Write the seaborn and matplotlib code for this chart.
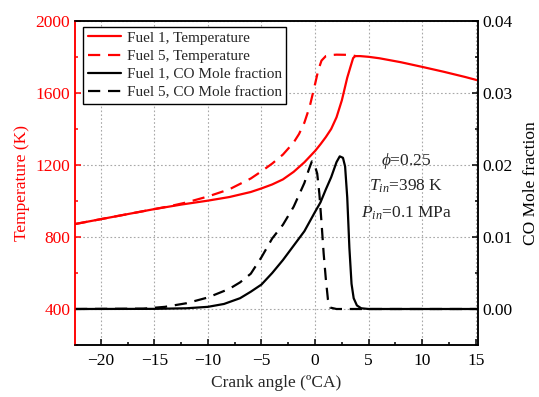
import matplotlib
matplotlib.use("Agg")
import matplotlib.pyplot as plt
from matplotlib.ticker import MultipleLocator, FormatStrFormatter
from matplotlib.lines import Line2D
import seaborn as sns
import pandas as pd

# Crank angle grids (°CA) and values for each series
t1_ca = [-22.4, -20, -17.5, -15, -12.5, -10, -8, -6, -5, -4, -3, -2, -1, 0, 0.5, 1,
         1.5, 2, 2.5, 3, 3.3, 3.55, 3.75, 4.2, 5, 6, 8, 10, 12, 14, 15.2]
t1_temp = [872, 899, 927, 955, 980, 1002, 1022, 1050, 1070, 1092, 1120, 1162, 1215, 1278,
           1315, 1355, 1400, 1465, 1560, 1685, 1745, 1794, 1805, 1805, 1801, 1793, 1771,
           1745, 1718, 1689, 1670]

t5_ca = [-22.4, -20, -17.5, -15, -13.5, -12, -10, -8, -6, -5, -4, -3, -2, -1.5, -1,
         -0.5, 0, 0.3, 0.6, 1, 1.5, 2, 3, 3.75]
t5_temp = [872, 899, 927, 955, 972, 992, 1025, 1065, 1125, 1165, 1208, 1258, 1325, 1372,
           1435, 1525, 1650, 1728, 1780, 1805, 1811, 1813, 1812, 1806]

co1_ca = [-22.4, -15, -12, -10, -8.5, -7, -6, -5, -4, -3, -2, -1, 0, 0.5, 1, 1.5, 2,
          2.3, 2.6, 2.8, 3.0, 3.2, 3.4, 3.6, 3.9, 4.3, 5, 15.2]
co1_frac = [0, 0.00002, 0.0001, 0.0003, 0.0007, 0.0015, 0.0024, 0.0034, 0.005, 0.0068,
            0.0088, 0.0108, 0.0135, 0.0148, 0.0166, 0.0183, 0.0204, 0.0212, 0.021,
            0.0198, 0.0155, 0.0085, 0.0035, 0.0015, 0.0005, 0.0001, 0, 0]

co5_ca = [-22.4, -16, -14, -12, -10, -8, -7, -6, -5, -4, -3, -2, -1, -0.6, -0.3, 0,
          0.2, 0.4, 0.6, 0.8, 1.0, 1.2, 1.4, 2, 15.2]
co5_frac = [0, 0.00005, 0.0003, 0.0008, 0.0016, 0.0028, 0.0037, 0.0049, 0.0072, 0.0098,
            0.0117, 0.0142, 0.0175, 0.0193, 0.0205, 0.0198, 0.0188, 0.016, 0.012,
            0.0077, 0.0042, 0.0013, 0.0002, 0, 0]

series_labels = ["Fuel 1, Temperature", "Fuel 5, Temperature",
                 "Fuel 1, CO Mole fraction", "Fuel 5, CO Mole fraction"]
x_ticks = [-20, -15, -10, -5, 0, 5, 10, 15]
temp_ticks = [400, 800, 1200, 1600, 2000]
co_ticks = [0.00, 0.01, 0.02, 0.03, 0.04]

sns.set_theme(style="ticks")
plt.rcParams["font.family"] = ["Liberation Serif", "DejaVu Serif"]
plt.rcParams["mathtext.fontset"] = "custom"
plt.rcParams["mathtext.rm"] = "Liberation Serif"
plt.rcParams["mathtext.it"] = "Liberation Serif:italic"
plt.rcParams["axes.linewidth"] = 1.1

RED = "#ff0000"
fig, ax = plt.subplots(figsize=(5.39, 3.97), dpi=100)
fig.subplots_adjust(left=75 / 539, right=478 / 539, top=1 - 21 / 397, bottom=1 - 345 / 397)
ax2 = ax.twinx()

df_t1 = pd.DataFrame({"ca": t1_ca, "val": t1_temp})
df_t5 = pd.DataFrame({"ca": t5_ca, "val": t5_temp})
df_c1 = pd.DataFrame({"ca": co1_ca, "val": co1_frac})
df_c5 = pd.DataFrame({"ca": co5_ca, "val": co5_frac})

lw = 1.6
dash = (5.5, 3.5)
sns.lineplot(data=df_t1, x="ca", y="val", ax=ax, color=RED, lw=lw, legend=False)
sns.lineplot(data=df_t5, x="ca", y="val", ax=ax, color=RED, lw=lw, legend=False,
             dashes=False, linestyle=(0, dash))
sns.lineplot(data=df_c5, x="ca", y="val", ax=ax2, color="black", lw=lw, legend=False,
             dashes=False, linestyle=(0, dash))
sns.lineplot(data=df_c1, x="ca", y="val", ax=ax2, color="black", lw=lw, legend=False)

# Axis ranges and ticks
ax.set_xlim(-22.4, 15.2)
ax.set_ylim(200, 2000)
ax2.set_ylim(-0.005, 0.04)
ax.set_xticks(x_ticks)
ax.set_yticks(temp_ticks)
ax2.set_yticks(co_ticks)
ax.xaxis.set_minor_locator(MultipleLocator(2.5))
ax.yaxis.set_minor_locator(MultipleLocator(200))
ax2.yaxis.set_minor_locator(MultipleLocator(0.005))
ax2.yaxis.set_major_formatter(FormatStrFormatter("%.2f"))

ax.grid(True, which="major", color="#a8a8a8", linestyle=(0, (1.5, 2)), linewidth=0.8)

ax.tick_params(axis="both", which="both", direction="in", labelsize=12.5)
ax.tick_params(axis="both", which="major", length=4.5, width=1.1)
ax.tick_params(axis="both", which="minor", length=2.2, width=1.1)
ax.tick_params(axis="y", which="both", colors=RED, labelcolor=RED)
ax.tick_params(axis="x", which="both", colors="black", pad=6)
ax2.tick_params(axis="y", which="both", direction="in", labelsize=12.5, colors="black")
ax2.tick_params(axis="y", which="major", length=4.5, width=1.1)
ax2.tick_params(axis="y", which="minor", length=2.2, width=1.1)

for a in (ax, ax2):
    for s in a.spines.values():
        s.set_color("black")
        s.set_linewidth(1.1)
    a.spines["left"].set_color(RED)

ax.set_xlabel("Crank angle (ºCA)", fontsize=12.5, labelpad=4)
ax.set_ylabel("Temperature (K)", fontsize=12.5, color=RED, labelpad=4)
ax2.set_ylabel("CO Mole fraction", fontsize=12.5, color="black", labelpad=7)

# Operating conditions
ax2.text(8.5, 0.0205, r"$\phi$=0.25", ha="center", va="center", fontsize=12.5)
ax2.text(8.5, 0.0170, r"$T_{in}$=398 K", ha="center", va="center", fontsize=12.5)
ax2.text(8.5, 0.0133, r"$P_{in}$=0.1 MPa", ha="center", va="center", fontsize=12.5)

handles = [
    Line2D([], [], color=RED, lw=lw),
    Line2D([], [], color=RED, lw=lw, linestyle=(0, dash)),
    Line2D([], [], color="black", lw=lw),
    Line2D([], [], color="black", lw=lw, linestyle=(0, dash)),
]
leg = ax2.legend(handles, series_labels, loc="upper left", bbox_to_anchor=(0.02, 0.983),
                 borderaxespad=0, fontsize=11, frameon=True, fancybox=False,
                 framealpha=1, edgecolor="black", handlelength=2.2, handletextpad=0.35,
                 labelspacing=0.3, borderpad=0.3)
leg.get_frame().set_linewidth(1.0)

fig.savefig("out.png", dpi=100)
